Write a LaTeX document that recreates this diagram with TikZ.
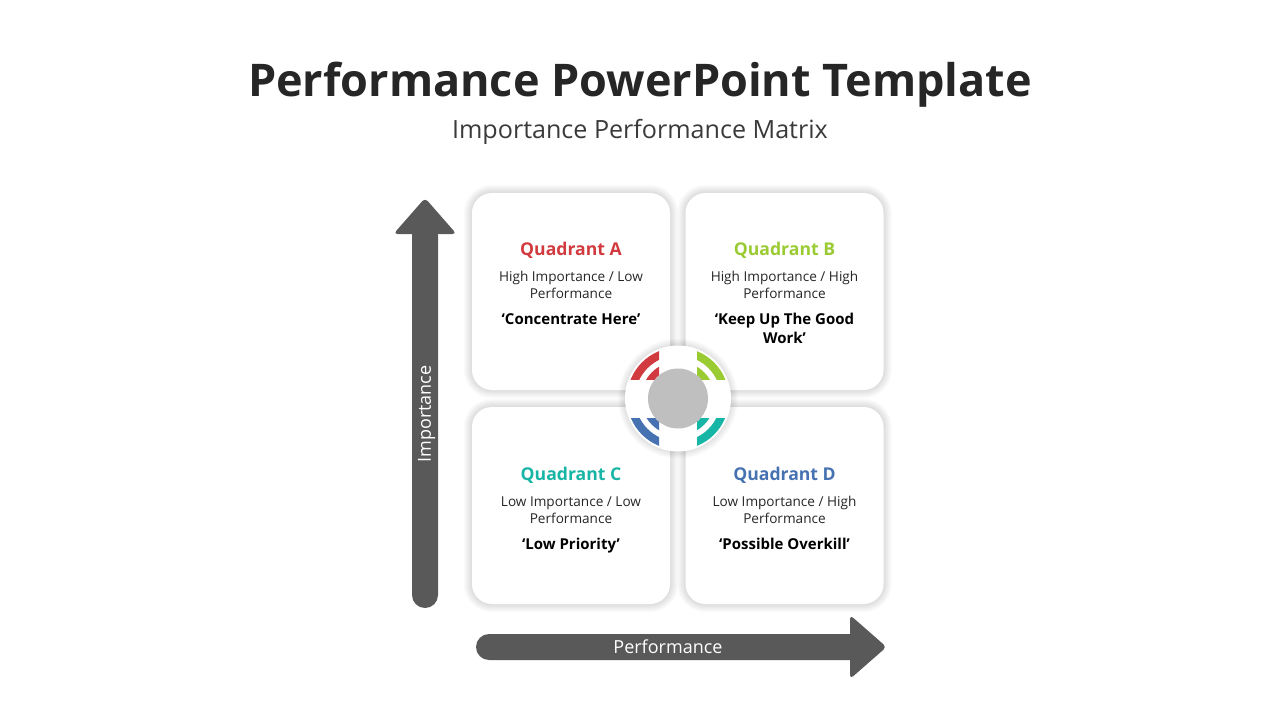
\documentclass[tikz,border=0pt]{standalone}
\usepackage{fontspec}
\setmainfont{Open Sans}
\usetikzlibrary{calc}
\definecolor{arrowgray}{HTML}{595959}
\definecolor{titlegray}{HTML}{262626}
\definecolor{subgray}{HTML}{3A3A3A}
\definecolor{bodygray}{HTML}{262626}
\definecolor{qred}{HTML}{D13B3F}
\definecolor{qgreen}{HTML}{9BCB33}
\definecolor{qteal}{HTML}{17B5A5}
\definecolor{qblue}{HTML}{4672B2}
\definecolor{hubgray}{HTML}{BFBFBF}
\newcommand\softshade[1]{%
  \foreach \i in {1,...,8}{%
    \fill[black, opacity=0.014, rounded corners=20+\i]
      ($(#1.south west)+(-\i,\i)$) rectangle ($(#1.north east)+(\i,-\i)$);
  }%
}
\begin{document}
\begin{tikzpicture}[x=1pt,y=-1pt,
  card/.style={draw=none, fill=white, rounded corners=20, minimum width=198, minimum height=197},
  qtitle/.style={font=\fontsize{17.6}{22}\selectfont\bfseries, anchor=base},
  qbody/.style={font=\fontsize{13.6}{17}\selectfont, text=bodygray, align=center, anchor=base},
  qquote/.style={font=\fontsize{15}{19}\selectfont\bfseries, text=black, align=center, anchor=base},
  axislabel/.style={font=\fontsize{18}{22}\selectfont, text=white},
  arrowfill/.style={fill=arrowgray}
]
\useasboundingbox (0,0) rectangle (1280,720);
\fill[white] (0,0) rectangle (1280,720);

% titles
\node[font=\fontsize{45}{54}\selectfont\bfseries, text=titlegray, anchor=base] (title) at (640,96) {Performance PowerPoint Template};
\node[font=\fontsize{25.1}{30}\selectfont, text=subgray, anchor=base] (subtitle) at (640,138) {Importance Performance Matrix};

% cards
\coordinate (ca) at (571,291.5);
\coordinate (cb) at (784.5,291.5);
\coordinate (cc) at (571,505.5);
\coordinate (cd) at (784.5,505.5);
\path node[card] (qa) at (ca) {} node[card] (qb) at (cb) {} node[card] (qc) at (cc) {} node[card] (qd) at (cd) {};
\softshade{qa}\softshade{qb}\softshade{qc}\softshade{qd}
\node[card] at (qa) {};
\node[card] at (qb) {};
\node[card] at (qc) {};
\node[card] at (qd) {};

% hub
\coordinate (hc) at (678,398.5);
\foreach \i in {1,...,7}{\fill[black, opacity=0.015] (hc) circle[radius=53+\i];}
\node[circle, fill=white, minimum size=106, inner sep=0pt] (hub) at (hc) {};
\begin{scope}
  \clip (618,338) rectangle (659,379.5);
  \fill[qred, even odd rule] (hub.center) circle[radius=51] circle[radius=43];
  \fill[qred, even odd rule] (hub.center) circle[radius=37] circle[radius=30];
\end{scope}
\begin{scope}
  \clip (697,338) rectangle (738,379.5);
  \fill[qgreen, even odd rule] (hub.center) circle[radius=51] circle[radius=43];
  \fill[qgreen, even odd rule] (hub.center) circle[radius=37] circle[radius=30];
\end{scope}
\begin{scope}
  \clip (618,418) rectangle (659,459);
  \fill[qblue, even odd rule] (hub.center) circle[radius=51] circle[radius=43];
  \fill[qblue, even odd rule] (hub.center) circle[radius=37] circle[radius=30];
\end{scope}
\begin{scope}
  \clip (697,418) rectangle (738,459);
  \fill[qteal, even odd rule] (hub.center) circle[radius=51] circle[radius=43];
  \fill[qteal, even odd rule] (hub.center) circle[radius=37] circle[radius=30];
\end{scope}
\node[circle, fill=hubgray, minimum size=60, inner sep=0pt] (core) at (hub.center) {};

% card texts
\node[qtitle, text=qred] (ta) at (571,255) {Quadrant A};
\node[qbody] (ba) at (571,298) {High Importance / Low\\Performance};
\node[qquote] (za) at (571,324.5) {‘Concentrate Here’};

\node[qtitle, text=qgreen] (tb) at (784.5,255) {Quadrant B};
\node[qbody] (bb) at (784.5,298) {High Importance / High\\Performance};
\node[qquote] (zb) at (784.5,343.5) {‘Keep Up The Good\\Work’};

\node[qtitle, text=qteal] (tc) at (571,480) {Quadrant C};
\node[qbody] (bc) at (571,523) {Low Importance / Low\\Performance};
\node[qquote] (zc) at (571,549.5) {‘Low Priority’};

\node[qtitle, text=qblue] (td) at (784.5,480) {Quadrant D};
\node[qbody] (bd) at (784.5,523) {Low Importance / High\\Performance};
\node[qquote] (zd) at (784.5,549.5) {‘Possible Overkill’};

% vertical arrow
\fill[arrowfill, rounded corners=13] (412,222) rectangle (438,608);
\fill[arrowfill, rounded corners=4] (425,198) -- (456.5,234) -- (393.5,234) -- cycle;
\node[axislabel, rotate=90] (ylab) at (426.5,414) {Importance};

% horizontal arrow
\fill[arrowfill, rounded corners=13] (476,634) rectangle (864,660);
\fill[arrowfill, rounded corners=4] (886.5,647) -- (850,615) -- (850,679) -- cycle;
\node[axislabel] (xlab) at (668,647) {Performance};
\end{tikzpicture}
\end{document}
